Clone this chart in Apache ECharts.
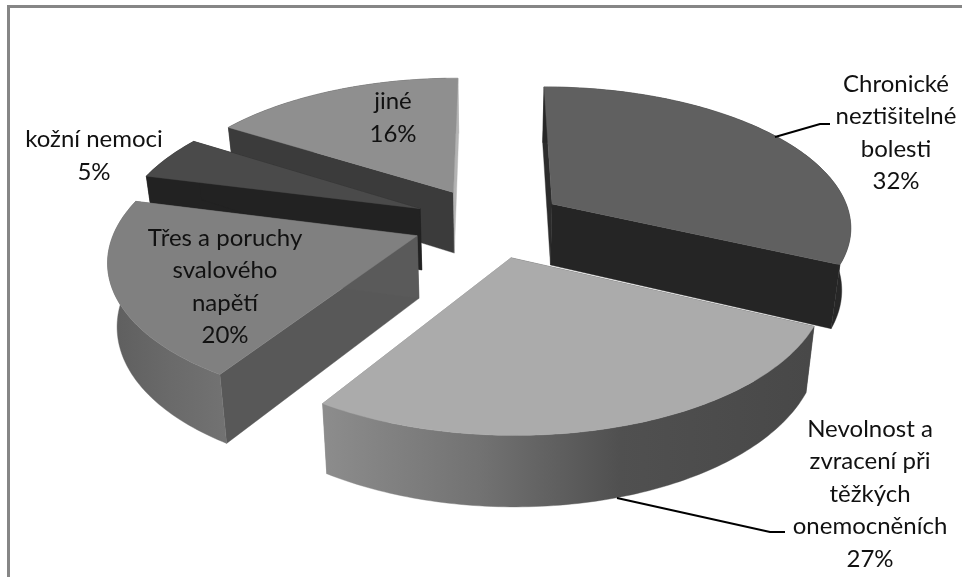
<!DOCTYPE html>
<html>
<head>
<meta charset="utf-8">
<style>html,body{margin:0;padding:0;background:#fff}#chart{width:962px;height:577px}</style>
<script src="https://cdn.jsdelivr.net/npm/echarts@6/dist/echarts.min.js"></script>
</head>
<body>
<div id="chart"></div>
<script>
// Shares of indications, percent, clockwise from twelve o'clock
const categories = ['Chronické\nneztišitelné\nbolesti', 'Nevolnost a\nzvracení při\ntěžkých\nonemocněních', 'Třes a poruchy\nsvalového\nnapětí', 'kožní nemoci', 'jiné'];
const values = [32, 27, 20, 5, 16];

// Back-to-front paint order of the slices
const paintOrder = [4, 3, 0, 2, 1];

// Greys per slice: top face, start cut face, end cut face, rim gradient stops [x, colour]
const sliceStyles = [
  { top: '#606060', start: '#2c2c2c', end: '#252525', rim: [[700, '#272727'], [850, '#272727']] },
  { top: '#ababab', start: '#484848', end: '#8a8a8a', rim: [[320, '#8d8d8d'], [480, '#727272'], [620, '#505050'], [810, '#484848']] },
  { top: '#808080', start: '#585858', end: '#5a5a5a', rim: [[110, '#5e5e5e'], [170, '#6a6a6a'], [225, '#727272']] },
  { top: '#4a4a4a', start: '#222222', end: '#222222', rim: [[150, '#222222'], [200, '#222222']] },
  { top: '#8f8f8f', start: '#3b3b3b', end: '#b4b4b4', rim: [[230, '#3b3b3b'], [445, '#3b3b3b'], [447, '#b4b4b4'], [460, '#b4b4b4']] }
];

// Label placement: block centre in px, leader polyline where one exists
const labelSpots = [
  { x: 896, y: 133, leader: [[775, 137], [820, 124], [830, 124]] },
  { x: 870, y: 494, leader: [[617, 498], [770, 532], [785, 532]] },
  { x: 225, y: 287 },
  { x: 94, y: 156 },
  { x: 393, y: 118 }
];

// Perspective disc: plane coordinates -> screen
const view = { cx: 489, cy: 222.5, ax: 300, ky: 139.5, persp: 0.1486, depth: 62, taper: 0.975, explode: 0.254 };

const total = values.reduce((a, b) => a + b, 0);
const bounds = [];
values.reduce((acc, v, i) => {
  bounds[i] = [acc / total * 360, (acc + v) / total * 360];
  return acc + v;
}, 0);

function project(u, v, lower) {
  const w = 1 - view.persp * v;
  let x = view.cx + view.ax * u / w;
  let y = view.cy + view.ky * v / w;
  if (lower) {
    x = view.cx + (x - view.cx) * view.taper;
    y += view.depth * Math.pow(1 / w, 0.7);
  }
  return [x, y];
}

function drawSlice(params, api) {
  const i = api.value(0);
  const [a0, a1] = bounds[i];
  const style = sliceStyles[i];
  const rad = d => d * Math.PI / 180;
  const mid = rad((a0 + a1) / 2);
  const ou = view.explode * Math.sin(mid);
  const ov = -view.explode * Math.cos(mid);
  const rimAt = (deg, lower) => project(ou + Math.sin(rad(deg)), ov - Math.cos(rad(deg)), lower);
  const apex = lower => project(ou, ov, lower);

  const topRim = [], lowRim = [];
  const steps = Math.ceil(a1 - a0);
  for (let s = 0; s <= steps; s++) {
    const d = a0 + (a1 - a0) * s / steps;
    topRim.push(rimAt(d, false));
    lowRim.push(rimAt(d, true));
  }
  const xs = style.rim.map(r => r[0]);
  const x0 = xs[0], x1 = xs[xs.length - 1];
  const rimFill = new echarts.graphic.LinearGradient(x0, 0, x1, 0,
    style.rim.map(r => ({ offset: (r[0] - x0) / (x1 - x0), color: r[1] })), true);
  const poly = (points, fill) => ({
    type: 'polygon', shape: { points }, style: { fill, stroke: fill, lineWidth: 0.4 }
  });
  return {
    type: 'group',
    children: [
      poly([apex(false), rimAt(a0, false), rimAt(a0, true), apex(true)], style.start),
      poly([apex(false), rimAt(a1, false), rimAt(a1, true), apex(true)], style.end),
      poly(topRim.concat(lowRim.slice().reverse()), rimFill),
      poly([apex(false)].concat(topRim), style.top)
    ]
  };
}

// Frame, leader lines and labels
const overlay = [
  { type: 'polyline', shape: { points: [[8.5, 577], [8.5, 6.5], [962, 6.5]] },
    style: { fill: null, stroke: '#868686', lineWidth: 3 } }
];
labelSpots.forEach((spot, i) => {
  if (spot.leader) {
    overlay.push({ type: 'polyline', shape: { points: spot.leader },
      style: { fill: null, stroke: '#000', lineWidth: 2 }, z: 5 });
  }
  overlay.push({
    type: 'text', x: spot.x, y: spot.y, z: 10,
    style: {
      text: categories[i] + '\n' + values[i] + '%',
      font: '24px Lato', fill: '#111', align: 'center', verticalAlign: 'middle', lineHeight: 32.5
    }
  });
});

const chart = echarts.init(document.getElementById('chart'), null, { renderer: 'canvas' });
chart.setOption({
  animation: false,
  backgroundColor: '#ffffff',
  graphic: overlay,
  series: [{
    type: 'custom',
    coordinateSystem: 'none',
    renderItem: drawSlice,
    silent: true,
    data: paintOrder.map(i => [i, values[i]])
  }]
});
</script>
</body>
</html>
